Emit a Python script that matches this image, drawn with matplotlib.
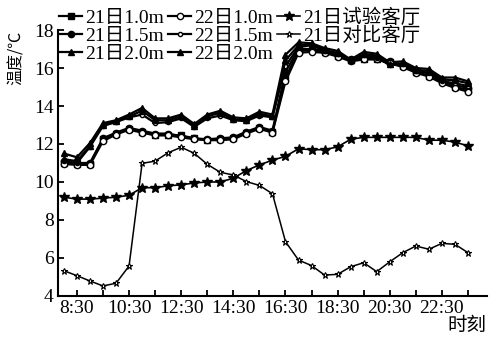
import numpy as np
import matplotlib
matplotlib.use('Agg')
import matplotlib.pyplot as plt

plt.rcParams['font.family'] = ['Liberation Serif', 'Noto Sans CJK SC', 'DejaVu Sans']

# Half-hourly readings, 8:00 - 23:30
times = ['8:00', '8:30', '9:00', '9:30', '10:00', '10:30', '11:00', '11:30',
         '12:00', '12:30', '13:00', '13:30', '14:00', '14:30', '15:00', '15:30',
         '16:00', '16:30', '17:00', '17:30', '18:00', '18:30', '19:00', '19:30',
         '20:00', '20:30', '21:00', '21:30', '22:00', '22:30', '23:00', '23:30']
hours = np.array([int(t.split(':')[0]) + int(t.split(':')[1]) / 60 for t in times])

d21_10m = [11.0, 10.95, 10.95, 12.25, 12.55, 12.8, 12.65, 12.5, 12.5, 12.45, 12.3, 12.2,
           12.25, 12.3, 12.6, 12.85, 12.65, 15.5, 16.9, 16.95, 16.85, 16.65, 16.4, 16.5,
           16.5, 16.3, 16.1, 15.8, 15.6, 15.3, 15.0, 14.85]
d21_15m = [11.1, 11.0, 11.0, 12.3, 12.6, 12.85, 12.7, 12.55, 12.55, 12.4, 12.3, 12.25,
           12.3, 12.35, 12.65, 12.9, 12.7, 15.8, 17.0, 17.0, 16.9, 16.7, 16.45, 16.55,
           16.55, 16.35, 16.15, 15.9, 15.7, 15.35, 15.1, 14.95]
d21_20m = [11.5, 11.3, 12.05, 13.1, 13.25, 13.55, 13.9, 13.35, 13.35, 13.55, 13.05, 13.55,
           13.75, 13.4, 13.35, 13.7, 13.55, 16.7, 17.35, 17.3, 17.05, 16.9, 16.45, 16.85,
           16.75, 16.3, 16.35, 16.0, 15.95, 15.5, 15.5, 15.3]
d22_10m = [10.95, 10.9, 10.9, 12.15, 12.5, 12.75, 12.6, 12.45, 12.45, 12.35, 12.25, 12.2,
           12.2, 12.25, 12.55, 12.8, 12.6, 15.3, 16.8, 16.85, 16.8, 16.6, 16.35, 16.45,
           16.45, 16.25, 16.05, 15.75, 15.55, 15.2, 14.95, 14.75]
d22_15m = [11.1, 11.0, 11.85, 12.95, 13.15, 13.4, 13.55, 13.1, 13.15, 13.35, 12.9, 13.35,
           13.5, 13.25, 13.2, 13.5, 13.4, 16.1, 17.1, 17.2, 16.9, 16.75, 16.35, 16.7,
           16.55, 16.15, 16.2, 15.85, 15.75, 15.3, 15.2, 15.05]
d22_20m = [11.2, 11.1, 11.9, 13.0, 13.2, 13.45, 13.75, 13.25, 13.25, 13.45, 12.95, 13.45,
           13.65, 13.3, 13.25, 13.6, 13.45, 16.4, 17.2, 17.25, 16.95, 16.8, 16.4, 16.75,
           16.65, 16.2, 16.25, 15.9, 15.85, 15.4, 15.35, 15.2]
test_room = [9.2, 9.1, 9.1, 9.15, 9.2, 9.3, 9.7, 9.7, 9.8, 9.85, 9.95, 10.0,
             10.0, 10.2, 10.6, 10.9, 11.15, 11.35, 11.75, 11.7, 11.7, 11.85, 12.25, 12.35,
             12.35, 12.35, 12.35, 12.35, 12.2, 12.2, 12.1, 11.9]
ref_room = [5.33, 5.07, 4.79, 4.53, 4.67, 5.58, 10.98, 11.1, 11.54, 11.83, 11.51, 10.93,
            10.51, 10.37, 10.02, 9.82, 9.38, 6.86, 5.89, 5.6, 5.1, 5.14, 5.54, 5.75,
            5.28, 5.8, 6.28, 6.63, 6.46, 6.77, 6.72, 6.28]

tick_pos = np.arange(8.5, 24.0, 1.0)
tick_labels = ['8:30', '', '10:30', '', '12:30', '', '14:30', '', '16:30', '',
               '18:30', '', '20:30', '', '22:30', '']

fig = plt.figure(figsize=(4.99, 3.41), dpi=100)
ax = fig.add_axes([0.116, 0.132, 0.86, 0.78])

thick = dict(color='black', lw=1.6, ms=4.5)
ax.plot(hours, d21_10m, marker='s', label='21日1.0m', **thick)
ax.plot(hours, d21_15m, marker='o', label='21日1.5m', **thick)
ax.plot(hours, d21_20m, marker='^', label='21日2.0m', **thick)
ax.plot(hours, d22_10m, marker='o', mfc='white', label='22日1.0m', **thick)
ax.plot(hours, d22_15m, marker='o', mfc='white', label='22日1.5m',
        color='black', lw=1.6, ms=3)
ax.plot(hours, d22_20m, marker='^', label='22日2.0m', **thick)
ax.plot(hours, test_room, marker='*', color='black', lw=1.2, ms=7.5, label='21日试验客厅')
ax.plot(hours, ref_room, marker='*', mfc='white', color='black', lw=1.1, ms=4.5,
        mew=0.8, label='21日对比客厅')

ax.set_xlim(7.77, 24.23)
ax.set_ylim(4, 18)
ax.set_yticks([4, 6, 8, 10, 12, 14, 16, 18])
ax.set_xticks(tick_pos)
ax.set_xticklabels(tick_labels)
ax.tick_params(direction='in', length=4, width=1.3, labelsize=14, pad=3)
for side in ['top', 'right']:
    ax.spines[side].set_visible(False)
for side in ['left', 'bottom']:
    ax.spines[side].set_linewidth(1.5)

ax.legend(ncol=3, frameon=False, fontsize=14, loc='upper left',
          bbox_to_anchor=(0.118, 0.976), bbox_transform=fig.transFigure,
          borderpad=0, borderaxespad=0, handlelength=1.2, handletextpad=0.15,
          columnspacing=0.2, labelspacing=0.02)

fig.text(0.032, 0.83, '温度/℃', rotation=90, ha='center', va='center',
         fontsize=11.5, fontweight='medium', family=['Noto Sans CJK SC', 'DejaVu Sans'])
fig.text(0.935, 0.047, '时刻', ha='center', va='center', fontsize=14,
         family=['Noto Sans CJK SC', 'DejaVu Sans'])

fig.savefig('out.png', dpi=100)
